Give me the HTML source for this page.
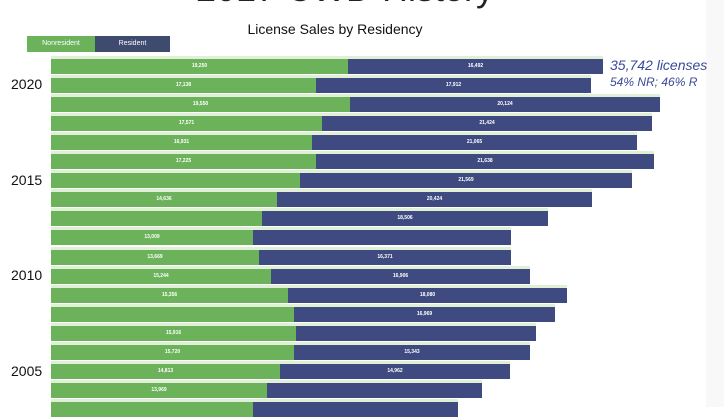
<!DOCTYPE html>
<html><head><meta charset="utf-8"><style>
body{margin:0;width:724px;height:407px;overflow:hidden;background:#fff;font-family:"Liberation Sans",sans-serif;position:relative}
.a{position:absolute}
.g{background:#6bb25a}.b{background:#3f4a80}
.t{color:#fff;font-size:5px;text-align:center;line-height:15px;font-weight:bold}
.y{font-size:14px;color:#111;left:11px}
</style></head><body>
<div class="a" style="left:706px;top:0;width:18px;height:407px;background:#f8f8f8"></div>
<div class="a" style="left:145px;top:-31px;width:400px;text-align:center;font-size:36px;line-height:40px;color:#222;white-space:nowrap">2017 CWD History</div>
<div class="a" style="left:200px;top:21px;width:270px;text-align:center;font-size:14px;color:#111;white-space:nowrap">License Sales by Residency</div>
<div class="a g" style="left:27px;top:36px;width:68px;height:16px;color:#fff;font-size:7px;line-height:16px;text-align:center">Nonresident</div>
<div class="a" style="left:95px;top:36px;width:75px;height:16px;background:#3e4a6e;color:#fff;font-size:7px;line-height:16px;text-align:center">Resident</div>
<div class="a" style="left:610px;top:57px;font-size:14px;font-style:italic;color:#3a4a9a">35,742 licenses</div>
<div class="a" style="left:610px;top:75px;font-size:12px;font-style:italic;color:#3a4a9a">54% NR; 46% R</div>
<div class="a y" style="top:76px">2020</div>
<div class="a y" style="top:172px">2015</div>
<div class="a y" style="top:267px">2010</div>
<div class="a y" style="top:363px">2005</div>
<div id="c"></div>
<script>
var d=[[348,603,"19,250","16,492"],[316,591,"17,138","17,912"],[350,660,"19,550","20,124"],[322,652,"17,571","21,424"],[312,637,"16,931","21,065"],[316,654,"17,225","21,638"],[300,632,"","21,569"],[277,592,"14,636","20,424"],[262,548,"","18,506"],[253,511,"13,009",""],[259,511,"13,669","16,371"],[271,530,"15,244","16,906"],[288,567,"15,356","18,080"],[294,555,"","16,969"],[296,536,"15,916",""],[294,530,"15,720","15,343"],[280,510,"14,813","14,962"],[267,482,"13,969",""],[253,458,"",""]];
var h="";d.forEach(function(r,i){var y=59+i*19.05;
h+='<div class="a" style="left:51px;top:'+(y-3)+'px;width:'+(r[1]-51)+'px;height:3px;background:#dff0d6"></div>';
h+='<div class="a g t" style="left:51px;top:'+y+'px;width:'+(r[0]-51)+'px;height:15px">'+r[2]+'</div>';
h+='<div class="a b t" style="left:'+r[0]+'px;top:'+y+'px;width:'+(r[1]-r[0])+'px;height:15px">'+r[3]+'</div>';});
document.getElementById("c").innerHTML=h;
</script>
</body></html>
